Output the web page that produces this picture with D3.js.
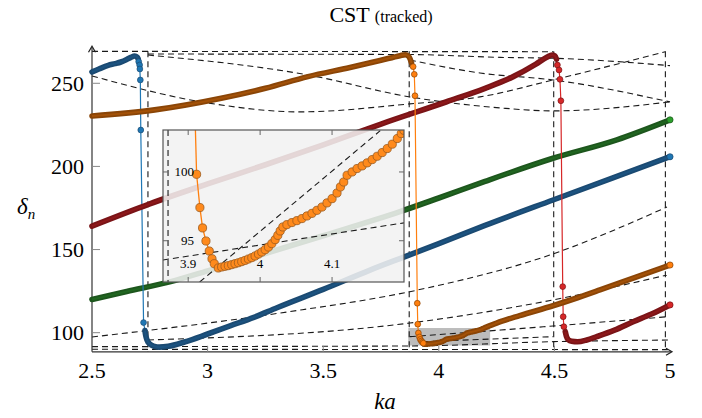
<!DOCTYPE html>
<html><head><meta charset="utf-8">
<script src="https://cdn.jsdelivr.net/npm/d3@7"></script>
<style>body{margin:0;background:#fff}svg{display:block}text{font-family:"Liberation Serif","Times New Roman",serif}</style>
</head><body><svg id="c" width="702" height="418"></svg>
<script>
// ---- data (ka, delta_n) ----
const xTicks = [2.5, 3, 3.5, 4, 4.5, 5];
const xTickLabels = ["2.5", "3", "3.5", "4", "4.5", "5"];
const yTicks = [100, 150, 200, 250];
const insetXTicks = [3.9, 4.0, 4.1];
const insetXTickLabels = ["3.9", "4", "4.1"];
const insetYTicks = [95, 100];

const blueA = [[2.5,256.8],[2.53,258.6],[2.57,260.8],[2.6,261.8],[2.625,262.8],[2.65,264.3],[2.668,265.6],[2.685,266.4],[2.695,265.8],[2.7,264.6]];
const blueDrop = [[2.7,264.6],[2.702,263.0],[2.706,261.0],[2.707,258.6],[2.709,252.0],[2.711,221.9],[2.723,106.1],[2.729,101.3]];
const blueB = [[2.729,101.3],[2.732,98.6],[2.738,95.6],[2.75,93.2],[2.77,91.8],[2.79,91.3],[2.83,91.8],[2.9,94.4],[3.0,99.2],[3.1,104.2],[3.2,109.2],[3.3,115.0],[3.5,126.0],[3.7,137.5],[3.832,144.6],[4.0,153.5],[4.2,164.5],[4.494,179.8],[4.75,193.0],[5.0,205.8]];

const orangeA = [[2.5,230.3],[2.771,234.0],[3.059,241.0],[3.25,247.0],[3.434,254.0],[3.616,259.5],[3.75,263.8],[3.832,266.6],[3.855,267.2],[3.868,266.4],[3.876,264.6],[3.882,262.2]];
const orangeDrop = [[3.882,262.2],[3.889,260.0],[3.894,255.4],[3.897,242.5],[3.907,117.7],[3.909,105.1],[3.9117,99.83],[3.9163,97.41],[3.92,95.93],[3.9247,94.98],[3.9293,94.25],[3.9331,93.69],[3.9363,93.33]];
const orangeZoom = [[3.9363,93.33],[3.9419,93.02],[3.9465,93.09],[3.9512,93.14],[3.9558,93.19],[3.9605,93.26],[3.9651,93.33],[3.9698,93.40],[3.9744,93.48],[3.9791,93.57],[3.9837,93.67],[3.9884,93.77],[3.9930,93.89],[3.9977,94.03],[4.0023,94.18],[4.0070,94.35],[4.0116,94.54],[4.0163,94.79],[4.0209,95.08],[4.0246,95.39],[4.0279,95.71],[4.0316,96.0],[4.0372,96.17],[4.0442,96.32],[4.0511,96.46],[4.0581,96.61],[4.0651,96.8],[4.0721,96.99],[4.0790,97.21],[4.0860,97.45],[4.0930,97.75],[4.1000,98.06],[4.1069,98.47],[4.1116,98.91],[4.1162,99.27],[4.1209,99.76],[4.1279,100.0],[4.1348,100.25],[4.1418,100.44],[4.1488,100.66],[4.1558,100.90],[4.1627,101.14],[4.1697,101.41],[4.1767,101.70],[4.1837,102.02],[4.1907,102.43],[4.1962,102.79],[4.1999,103.03]];
const orangeB = [[4.1999,103.03],[4.25,105.8],[4.35,110.3],[4.494,116.2],[4.6,121.0],[4.697,125.7],[4.85,133.3],[5.0,140.7]];

const green = [[2.5,120.0],[2.65,124.8],[2.84,130.7],[3.0,137.2],[3.2,145.5],[3.5,158.3],[3.832,172.8],[4.0,181.0],[4.2,191.0],[4.494,204.9],[4.77,216.0],[5.0,228.0]];

const redA = [[2.5,164.1],[2.75,177.5],[3.0,189.5],[3.25,201.0],[3.5,213.0],[3.75,225.5],[4.034,238.9],[4.2,247.0],[4.322,254.0],[4.42,261.5],[4.467,265.6],[4.49,267.0],[4.502,266.5],[4.509,264.5]];
const redDrop = [[4.509,264.5],[4.513,261.0],[4.52,258.0],[4.524,252.4],[4.528,239.5],[4.536,127.7],[4.538,109.6],[4.541,103.6],[4.547,100.6]];
const redB = [[4.547,100.6],[4.552,97.8],[4.56,95.8],[4.575,94.8],[4.6,94.5],[4.64,95.6],[4.683,97.6],[4.76,101.5],[4.841,106.6],[4.92,111.2],[5.0,116.7]];

// dashed reference curves
const dashTop = [[2.5,269.2],[4.494,269.0]];
const dashA = [[2.742,267.6],[3.875,267.3],[4.265,265.6],[4.511,265.0],[5.0,260.6]];
const dashB = [[2.742,267.0],[3.434,255.0],[3.875,241.8],[4.265,235.2],[4.494,233.4],[5.0,238.8]];
const dashC = [[2.5,254.4],[3.0,238.2],[3.4,232.8],[3.875,237.6],[4.178,241.8],[4.494,252.0],[4.98,269.0]];
const dashD = [[3.875,264.0],[4.178,256.2],[4.494,252.0],[5.0,238.8]];
const dashE = [[2.5,90.0],[5.0,89.8]];
const dashF = [[2.5,91.6],[3.875,92.0],[4.494,94.6],[5.0,95.6]];
const dashG = [[2.742,95.6],[3.875,105.8],[4.494,119.7],[4.987,134.7]];
const dashH = [[2.5,97.4],[3.313,111.8],[3.91,125.7],[4.48,146.7],[4.987,175.6]];
const dashI = [[3.875,97.6],[4.494,104.0],[4.987,109.6]];
const dashJ = [[3.93,94.6],[4.494,97.6]];
const dashVerticals = [2.742, 3.872, 4.497, 4.98];
const insetDash1 = [[3.916,92.0],[4.167,103.0]];
const insetDash2 = [[3.865,93.6],[4.2,96.3]];
const zoomBox = {x0:3.868, x1:4.222, y0:92.3, y1:102.8};

// ---- drawing ----
const svg = d3.select("#c");
const x = d3.scaleLinear().domain([2.5,5]).range([92,670]);
const y = d3.scaleLinear().domain([88.5,270.5]).range([351.8,49.2]);

const colors = {
  blue:{fill:"#1f77b4",dark:"#1b4a72"},
  orange:{fill:"#ff7f0e",dark:"#8a4507"},
  green:{fill:"#2ca02c",dark:"#1d561d"},
  red:{fill:"#d62728",dark:"#7a1417"}
};
const TW = 5.6;

svg.append("rect").attr("x",x(zoomBox.x0)).attr("y",y(zoomBox.y1))
  .attr("width",x(zoomBox.x1)-x(zoomBox.x0)).attr("height",y(zoomBox.y0)-y(zoomBox.y1))
  .attr("fill","#bcbcbc");

const lineM = d3.line().x(d=>x(d[0])).y(d=>y(d[1])).curve(d3.curveMonotoneX);
const lineL = d3.line().x(d=>x(d[0])).y(d=>y(d[1]));
const dashG_ = svg.append("g").attr("fill","none").attr("stroke","#1a1a1a").attr("stroke-width",1.1).attr("stroke-dasharray","6,4");
[dashTop,dashA,dashB,dashC,dashD,dashE,dashF,dashG,dashH,dashI,dashJ].forEach(c=>dashG_.append("path").attr("d",lineM(c)));
dashVerticals.forEach(v=>dashG_.append("line").attr("x1",x(v)).attr("x2",x(v)).attr("y1",y(269.2)).attr("y2",y(88.7)));

// axes
const ax = svg.append("g");
ax.append("line").attr("x1",x(2.5)).attr("x2",x(2.5)).attr("y1",y(88.5)).attr("y2",y(270.5)-2).attr("stroke","#333").attr("stroke-width",1.2);
ax.append("line").attr("x1",x(2.5)).attr("x2",x(5)+1).attr("y1",y(88.5)).attr("y2",y(88.5)).attr("stroke","#333").attr("stroke-width",1.2);
ax.append("path").attr("d",`M${x(2.5)-3.5},${y(270.5)+3} L${x(2.5)},${y(270.5)-3} L${x(2.5)+3.5},${y(270.5)+3}`).attr("fill","none").attr("stroke","#222").attr("stroke-width",1.2);
ax.append("path").attr("d",`M${x(5)-4},${y(88.5)-3.5} L${x(5)+2},${y(88.5)} L${x(5)-4},${y(88.5)+3.5}`).attr("fill","none").attr("stroke","#222").attr("stroke-width",1.2);
xTicks.forEach((t,i)=>{
  if(i>0 && i<xTicks.length-1) ax.append("line").attr("x1",x(t)).attr("x2",x(t)).attr("y1",y(88.5)).attr("y2",y(88.5)-6).attr("stroke","#888");
  ax.append("text").attr("x",x(t)).attr("y",378).attr("text-anchor","middle").attr("font-size",22).text(xTickLabels[i]);
});
yTicks.forEach(t=>{
  ax.append("line").attr("x1",x(2.5)).attr("x2",x(2.5)+8).attr("y1",y(t)).attr("y2",y(t)).attr("stroke","#888");
  ax.append("text").attr("x",84).attr("y",y(t)+7.5).attr("text-anchor","end").attr("font-size",22).text(t);
});

function thick(g, s, c){
  g.append("path").attr("d",lineM(s)).attr("fill","none").attr("stroke",c.dark).attr("stroke-width",TW).attr("stroke-linecap","round").attr("stroke-linejoin","round");
  g.append("path").attr("d",lineM(s)).attr("fill","none").attr("stroke",c.fill).attr("stroke-opacity",0.22).attr("stroke-width",2);
}
function series(c, A, drop, B){
  const g = svg.append("g");
  g.append("path").attr("d",lineL(drop)).attr("fill","none").attr("stroke",c.fill).attr("stroke-width",1.2);
  if (A) thick(g, A, c);
  thick(g, B, c);
  if (drop.length) g.selectAll("circle.d").data(drop.slice(1,-1)).join("circle").attr("cx",d=>x(d[0])).attr("cy",d=>y(d[1])).attr("r",2.9)
    .attr("fill",c.fill).attr("stroke",c.dark).attr("stroke-width",0.7);
  const last = B[B.length-1];
  g.append("circle").attr("cx",x(last[0])).attr("cy",y(last[1])).attr("r",3.1).attr("fill",c.fill).attr("stroke",c.dark).attr("stroke-width",0.7);
}
series(colors.green, null, [], green);
series(colors.blue, blueA, blueDrop, blueB);
series(colors.red, redA, redDrop, redB);
series(colors.orange, orangeA, orangeDrop, orangeZoom.concat(orangeB.slice(1)));

// ---- inset ----
const ix = d3.scaleLinear().domain([3.865,4.2]).range([163,404]);
const iy = d3.scaleLinear().domain([92,103.05]).range([282,130]);
const inset = svg.append("g");
inset.append("rect").attr("x",163).attr("y",130).attr("width",241).attr("height",152).attr("fill","#f1f1f1").attr("fill-opacity",0.88);
svg.append("clipPath").attr("id","ic").append("rect").attr("x",163).attr("y",130).attr("width",241).attr("height",152);
const ig = inset.append("g").attr("clip-path","url(#ic)");
const ilineL = d3.line().x(d=>ix(d[0])).y(d=>iy(d[1]));
const idash = ig.append("g").attr("fill","none").attr("stroke","#1a1a1a").attr("stroke-width",1.1).attr("stroke-dasharray","6,4");
[insetDash1,insetDash2].forEach(c=>idash.append("path").attr("d",ilineL(c)));
idash.append("line").attr("x1",ix(3.872)).attr("x2",ix(3.872)).attr("y1",130).attr("y2",282);
const oAll = orangeDrop.concat(orangeZoom.slice(1));
ig.append("path").attr("d",ilineL(oAll)).attr("fill","none").attr("stroke","#ff7f0e").attr("stroke-width",1.3);
ig.selectAll("circle").data(oAll.filter(d=>d[1]<104)).join("circle").attr("cx",d=>ix(d[0])).attr("cy",d=>iy(d[1])).attr("r",4.1)
  .attr("fill","#ff8a1c").attr("stroke","#9a5a1e").attr("stroke-width",0.8);
inset.append("rect").attr("x",163).attr("y",130).attr("width",241).attr("height",152).attr("fill","none").attr("stroke","#555").attr("stroke-width",1.2);
insetXTicks.forEach((t,i)=>{
  inset.append("line").attr("x1",ix(t)).attr("x2",ix(t)).attr("y1",282).attr("y2",277).attr("stroke","#666");
  inset.append("line").attr("x1",ix(t)).attr("x2",ix(t)).attr("y1",130).attr("y2",135).attr("stroke","#666");
  inset.append("text").attr("x",ix(t)).attr("y",268).attr("text-anchor","middle").attr("font-size",13).text(insetXTickLabels[i]);
});
insetYTicks.forEach(t=>{
  inset.append("line").attr("x1",163).attr("x2",168).attr("y1",iy(t)).attr("y2",iy(t)).attr("stroke","#666");
  inset.append("line").attr("x1",404).attr("x2",399).attr("y1",iy(t)).attr("y2",iy(t)).attr("stroke","#666");
  inset.append("text").attr("x",194).attr("y",iy(t)+4.5).attr("text-anchor","end").attr("font-size",13).text(t);
});

// ---- titles ----
const tt = svg.append("text").attr("x",381).attr("y",22).attr("text-anchor","middle");
tt.append("tspan").attr("font-size",22).text("CST ");
tt.append("tspan").attr("font-size",16).text("(tracked)");
svg.append("text").attr("x",385).attr("y",409).attr("text-anchor","middle").attr("font-size",23).attr("font-style","italic").text("ka");
const yl = svg.append("text").attr("x",17).attr("y",214).attr("font-size",23).attr("font-style","italic");
yl.append("tspan").text("δ");
yl.append("tspan").attr("font-size",15).attr("dy",5).text("n");
</script></body></html>
